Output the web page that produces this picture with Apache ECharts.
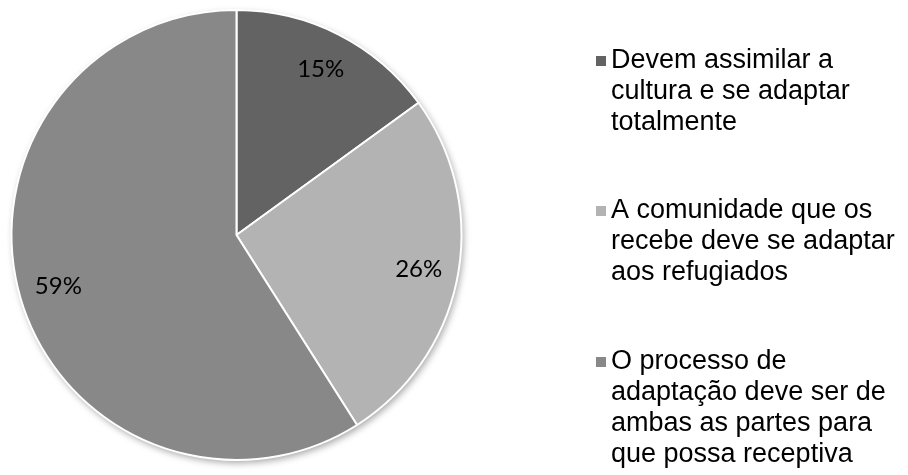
<!DOCTYPE html>
<html>
<head>
<meta charset="utf-8">
<script src="https://cdn.jsdelivr.net/npm/echarts@6/dist/echarts.min.js"></script>
<style>
  html, body { margin: 0; padding: 0; background: #ffffff; }
  #chart { width: 908px; height: 475px; }
</style>
</head>
<body>
<div id="chart"></div>
<script>
// Opinião sobre a adaptação cultural dos refugiados
const categories = [
  'Devem assimilar a cultura e se adaptar totalmente',
  'A comunidade que os recebe deve se adaptar aos refugiados',
  'O processo de adaptação deve ser de ambas as partes para que possa receptiva'
];
const shares = [15, 26, 59];
const sliceColors = ['#636363', '#b3b3b3', '#888888'];

// legend text broken into lines
const legendLabels = [
  ['Devem assimilar a', 'cultura e se adaptar', 'totalmente'],
  ['A comunidade que os', 'recebe deve se adaptar', 'aos refugiados'],
  ['O processo de', 'adaptação deve ser de', 'ambas as partes para', 'que possa receptiva']
];

const pieData = categories.map((name, i) => ({ name: name, value: shares[i] }));

const center = [236.5, 235];
const outerR = 225;

// one legend block per category; blank lines above the text keep the
// square level with the first text line (the block is centred on the square)
const lineH = 31;
const legendIconY = [61, 211, 362];
const legends = categories.map((name, i) => {
  const lines = legendLabels[i];
  const n = lines.length;
  const boxH = (2 * n - 1) * lineH;
  const text = ' \n'.repeat(n - 1) + lines.join('\n');
  return {
    orient: 'vertical',
    left: 596,
    top: legendIconY[i] - boxH / 2,
    padding: 0,
    itemGap: 0,
    itemWidth: 10,
    itemHeight: 10,
    icon: 'rect',
    selectedMode: false,
    itemStyle: { borderWidth: 0 },
    data: [{ name: name }],
    formatter: () => text,
    textStyle: {
      fontFamily: 'Liberation Sans, Arial, sans-serif',
      fontSize: 27,
      lineHeight: lineH,
      color: '#000000'
    }
  };
});

const chart = echarts.init(document.getElementById('chart'), null, { renderer: 'canvas' });
chart.setOption({
  backgroundColor: '#ffffff',
  animation: false,
  color: sliceColors,
  legend: legends,
  series: [
    {
      // visible slices
      type: 'pie',
      z: 2,
      center: center,
      radius: [0, outerR],
      startAngle: 90,
      clockwise: true,
      silent: true,
      data: pieData,
      itemStyle: { borderColor: '#ffffff', borderWidth: 2 },
      label: { show: false },
      labelLine: { show: false },
      emphasis: { disabled: true }
    },
    {
      // soft drop shadow under the disc
      type: 'pie',
      z: 1,
      center: center,
      radius: [0, outerR],
      startAngle: 90,
      clockwise: true,
      silent: true,
      data: pieData,
      itemStyle: {
        color: '#ffffff',
        borderWidth: 0,
        shadowBlur: 7,
        shadowColor: 'rgba(0,0,0,0.35)',
        shadowOffsetX: 2,
        shadowOffsetY: 3
      },
      label: { show: false },
      labelLine: { show: false },
      emphasis: { disabled: true }
    },
    {
      // percentage labels placed on an outer ring
      type: 'pie',
      z: 3,
      center: center,
      radius: [140, outerR],
      startAngle: 90,
      clockwise: true,
      silent: true,
      data: pieData,
      itemStyle: { color: 'rgba(0,0,0,0)', borderWidth: 0 },
      label: {
        show: true,
        position: 'inside',
        formatter: '{c}%',
        fontFamily: 'Lato, "Open Sans", sans-serif',
        fontSize: 24,
        color: '#000000'
      },
      labelLine: { show: false },
      emphasis: { disabled: true }
    }
  ]
});
</script>
</body>
</html>
